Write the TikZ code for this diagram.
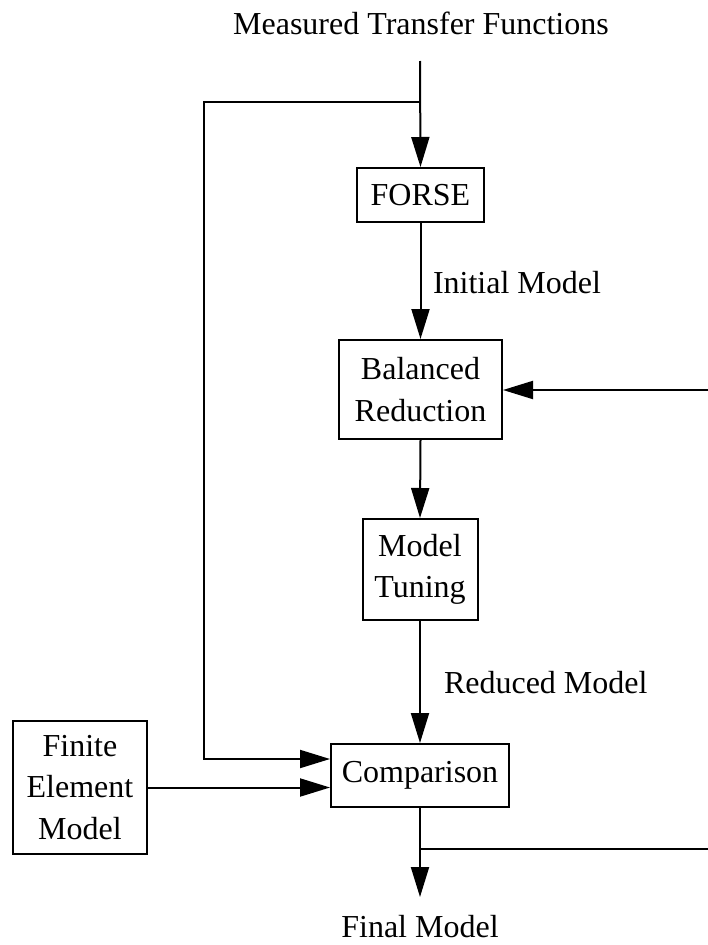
\documentclass[tikz,border=0pt]{standalone}
\usepackage{fontspec}
\setmainfont{Liberation Serif}
\usetikzlibrary{arrows.meta,calc}
\begin{document}
\begin{tikzpicture}[x=1pt,y=-1pt,
  line width=2pt,
  every node/.style={font=\fontsize{32}{41.6}\selectfont},
  blk/.style={draw,line width=2pt,inner sep=0pt,align=center},
  arr/.style={-{Triangle[length=30pt,width=18pt]}},
  lbl/.style={inner sep=0pt,anchor=base west}]
\useasboundingbox (0,0) rectangle (708,945);
% title and output
\node[inner sep=0pt,anchor=base] (title) at (421,34) {Measured Transfer Functions};
\node[inner sep=0pt,anchor=base] (final) at (420,937) {Final Model};
% blocks
\node[blk,minimum width=127pt,minimum height=54pt] (forse) at (420.5,195) {FORSE};
\node[blk,minimum width=163pt,minimum height=99pt] (bal) at (420.5,389.5) {Balanced\\Reduction};
\node[blk,minimum width=115pt,minimum height=101pt] (tun) at (420,569.5) {Model\\Tuning};
\node[blk,minimum width=178pt,minimum height=63pt] (comp) at (420,775.5) {Comparison};
\node[blk,minimum width=134pt,minimum height=133pt] (fem) at (80,787.5) {Finite\\Element\\Model};
% labels
\node[lbl] (lin) at (432,293) {Initial Model};
\node[lbl] (lred) at (443,693) {Reduced Model};
% coordinates
\coordinate (top) at (420,61);
\coordinate (split) at (420,102);
\coordinate (lt) at (204,102);
\coordinate (lb) at (204,759);
\coordinate (rin) at (708,390);
\coordinate (bsplit) at (420,849);
\coordinate (rout) at (708,849);
\coordinate (fout) at (420,897);
% connectors
\draw[arr] (top) -- (forse.north);
\draw[arr] (split) -- (lt) -- (lb) -- (comp.west |- lb);
\draw[arr] (forse.south) -- (bal.north);
\draw[arr] (rin) -- (bal.east |- rin);
\draw[arr] (bal.south) -- (tun.north);
\draw[arr] (tun.south) -- (comp.north);
\draw[arr] (fem.east) -- (comp.west |- fem.east);
\draw[arr] (comp.south) -- (fout);
\draw (bsplit) -- (rout);
\end{tikzpicture}
\end{document}
